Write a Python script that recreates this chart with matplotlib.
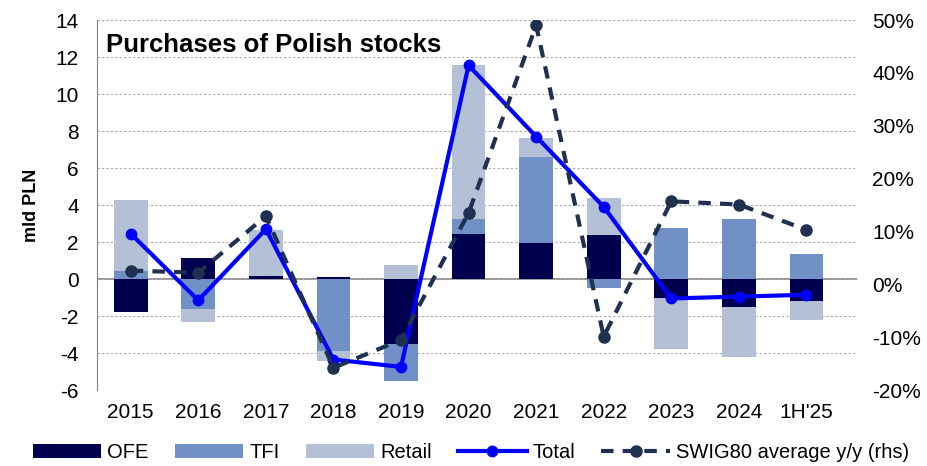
import matplotlib.pyplot as plt
import numpy as np

plt.rcParams['font.family'] = ['Liberation Sans', 'DejaVu Sans']
plt.rcParams['axes.unicode_minus'] = False

# Data (mld PLN)
years = ['2015', '2016', '2017', '2018', '2019', '2020', '2021', '2022', '2023', '2024', "1H'25"]
ofe = [-1.8, 1.15, 0.15, 0.1, -3.5, 2.45, 1.95, 2.4, -1.0, -1.5, -1.2]
tfi = [0.45, -1.6, 0.0, -3.9, -2.0, 0.8, 4.65, -0.5, 2.75, 3.25, 1.35]
retail = [3.8, -0.7, 2.5, -0.55, 0.75, 8.3, 1.05, 2.0, -2.8, -2.7, -1.0]
total = [2.45, -1.15, 2.7, -4.35, -4.75, 11.55, 7.7, 3.9, -1.05, -0.95, -0.85]
swig80 = [2.6, 2.2, 12.9, -15.8, -10.5, 13.5, 49.0, -9.9, 15.7, 15.1, 10.3]

c_ofe = '#00004F'
c_tfi = '#7190C6'
c_retail = '#B4C0D6'
c_total = '#0000FF'
c_swig = '#1F3050'

x = np.arange(len(years))
width = 0.5

fig = plt.figure(figsize=(9.27, 4.66), dpi=100)
ax = fig.add_axes([0.1046, 0.163, 0.82, 0.794])

# stack positives upward and negatives downward
pos_base = np.zeros(len(years))
neg_base = np.zeros(len(years))
bars = []
for vals, col, lab in [(ofe, c_ofe, 'OFE'), (tfi, c_tfi, 'TFI'), (retail, c_retail, 'Retail')]:
    vals = np.array(vals)
    base = np.where(vals >= 0, pos_base, neg_base)
    b = ax.bar(x, vals, width, bottom=base, color=col, label=lab, zorder=2)
    bars.append(b)
    pos_base = pos_base + np.where(vals >= 0, vals, 0)
    neg_base = neg_base + np.where(vals < 0, vals, 0)

tot_line, = ax.plot(x, total, color=c_total, lw=3, marker='o', ms=7.5, label='Total', zorder=4)

ax.set_ylim(-6, 14)
ax.set_yticks(np.arange(-6, 15, 2))
ax.set_xlim(-0.5, 10.75)
ax.set_xticks(x)
ax.set_xticklabels(years)
ax.grid(axis='y', color='#AAAAAA', ls=(0, (2, 2)), lw=0.8, zorder=0)
ax.axhline(0, color='#808080', lw=1.2, zorder=1)
for s in ['top', 'right', 'bottom']:
    ax.spines[s].set_visible(False)
ax.spines['left'].set_color('#808080')
ax.tick_params(axis='y', length=0, labelsize=15, pad=13)
ax.tick_params(axis='x', length=0, labelsize=15, pad=9)
ax.set_ylabel('mld PLN', fontsize=13, fontweight='bold', labelpad=11)
ax.text(0.012, 0.965, 'Purchases of Polish stocks', transform=ax.transAxes,
        fontsize=18.5, fontweight='bold', va='top', ha='left')

ax2 = ax.twinx()
swig_line, = ax2.plot(x, swig80, color=c_swig, lw=3, ls=(0, (3, 2.2)), marker='o', ms=8,
                      label='SWIG80 average y/y (rhs)', zorder=3)
ax2.set_ylim(-20, 50)
ax2.set_yticks(np.arange(-20, 51, 10))
ax2.set_yticklabels([f'{v}%' for v in range(-20, 51, 10)])
for s in ['top', 'right', 'bottom', 'left']:
    ax2.spines[s].set_visible(False)
ax2.tick_params(axis='y', length=0, labelsize=15, pad=11)

handles = bars + [tot_line, swig_line]
labels = ['OFE', 'TFI', 'Retail', 'Total', 'SWIG80 average y/y (rhs)']
fig.legend(handles, labels, loc='lower center', ncol=5, frameon=False,
           fontsize=14.5, bbox_to_anchor=(0.508, -0.03), handlelength=3.4,
           columnspacing=1.3, handletextpad=0.3)

fig.savefig('out.png', dpi=100)
